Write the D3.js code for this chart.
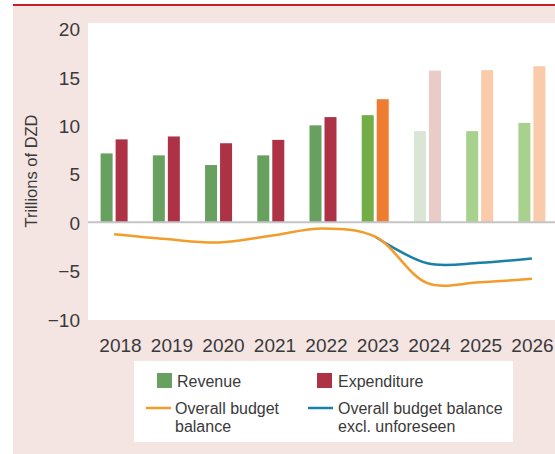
<!DOCTYPE html>
<meta charset="utf-8">
<style>

body {
  margin: 0;
  overflow: hidden;
  background: #fff;
}
text {
  font-family: "Liberation Sans", Arial, sans-serif;
  fill: #3a3a3a;
}
.tick text {
  font-size: 19px;
}
.legend text {
  font-size: 16px;
}
.ytitle {
  font-size: 16.5px;
}

</style>
<svg id="svg" width="555" height="454"></svg>
<script src="https://d3js.org/d3.v7.min.js"></script>
<script>

var years = ["2018", "2019", "2020", "2021", "2022", "2023", "2024", "2025", "2026"];
var revenue = [7.1, 6.9, 5.9, 6.9, 10.0, 11.05, 9.4, 9.4, 10.25];
var expenditure = [8.55, 8.85, 8.15, 8.5, 10.85, 12.7, 15.65, 15.7, 16.1];
var balance = [-1.25, -1.75, -2.1, -1.4, -0.65, -1.5, -6.3, -6.2, -5.85];
var balanceExcl = [null, null, null, null, null, -1.5, -4.25, -4.2, -3.75];
var yTicks = [-10, -5, 0, 5, 10, 15, 20];

// actual / estimate / forecast colours per year
var revColor = ["#68a060", "#68a060", "#68a060", "#68a060", "#68a060", "#72ad46", "#d9e6d6", "#a9d18e", "#a9d18e"];
var expColor = ["#ad3246", "#ad3246", "#ad3246", "#ad3246", "#ad3246", "#ef7d31", "#e9cbc8", "#f9cbab", "#f9cbab"];

var svg = d3.select("svg");

// pink panel + red rule on top
svg.append("rect").attr("x", 13).attr("y", 6).attr("width", 542).attr("height", 448).attr("fill", "#f4e4e2");
svg.append("rect").attr("x", 13).attr("y", 4).attr("width", 542).attr("height", 2).attr("fill", "#c8202a");

var plot = {left: 88, right: 555, top: 23, bottom: 320};
svg.append("rect")
    .attr("x", plot.left).attr("y", plot.top)
    .attr("width", plot.right - plot.left).attr("height", plot.bottom - plot.top)
    .attr("fill", "#fff");

var x = d3.scaleBand().domain(years).range([88, 558]);
var xLabel = d3.scalePoint().domain(years).range([120, 532]);
var y = d3.scaleLinear().domain([-10, 20]).range([319, 28.5]);

// y axis labels
var yAxis = svg.append("g")
    .attr("transform", "translate(88,0)")
    .call(d3.axisLeft(y).tickValues(yTicks).tickSize(0).tickPadding(8)
      .tickFormat(function(d) { return d < 0 ? "\u2212" + Math.abs(d) : d; }));
yAxis.select(".domain").remove();
yAxis.selectAll("text").attr("dy", "0.38em");

// x axis labels
var xAxis = svg.append("g")
    .attr("transform", "translate(0,331)")
    .call(d3.axisBottom(xLabel).tickSize(0).tickPadding(0));
xAxis.select(".domain").remove();
xAxis.selectAll("text").attr("dy", 21);

svg.append("text")
    .attr("class", "ytitle")
    .attr("transform", "translate(37,171) rotate(-90)")
    .attr("text-anchor", "middle")
    .text("Trillions of DZD");

var barW = 12, gap = 3;
var bars = svg.append("g");
bars.selectAll("rect.rev")
    .data(years)
    .enter().append("rect")
    .attr("class", "rev")
    .attr("x", function(d) { return x(d) + x.bandwidth() / 2 - gap / 2 - barW; })
    .attr("width", barW)
    .attr("y", function(d, i) { return y(revenue[i]); })
    .attr("height", function(d, i) { return y(0) - y(revenue[i]); })
    .attr("fill", function(d, i) { return revColor[i]; });
bars.selectAll("rect.exp")
    .data(years)
    .enter().append("rect")
    .attr("class", "exp")
    .attr("x", function(d) { return x(d) + x.bandwidth() / 2 + gap / 2; })
    .attr("width", barW)
    .attr("y", function(d, i) { return y(expenditure[i]); })
    .attr("height", function(d, i) { return y(0) - y(expenditure[i]); })
    .attr("fill", function(d, i) { return expColor[i]; });

// zero line
svg.append("line")
    .attr("x1", plot.left).attr("x2", plot.right)
    .attr("y1", y(0)).attr("y2", y(0))
    .attr("stroke", "#c4c4c4").attr("stroke-width", 2);

var line = d3.line()
    .defined(function(d) { return d != null; })
    .x(function(d, i) { return x(years[i]) + x.bandwidth() / 2; })
    .y(function(d) { return y(d); })
    .curve(d3.curveCatmullRom.alpha(0.5));

svg.append("path").datum(balanceExcl)
    .attr("d", line).attr("fill", "none")
    .attr("stroke", "#1a80a8").attr("stroke-width", 2.5);
svg.append("path").datum(balance)
    .attr("d", line).attr("fill", "none")
    .attr("stroke", "#f29c2c").attr("stroke-width", 2.5);

// legend
var legend = svg.append("g").attr("class", "legend");
legend.append("rect").attr("x", 134).attr("y", 361).attr("width", 379).attr("height", 81).attr("fill", "#fff");

legend.append("rect").attr("x", 157).attr("y", 373).attr("width", 15).attr("height", 15).attr("fill", revColor[0]);
legend.append("text").attr("x", 177).attr("y", 387).text("Revenue");
legend.append("rect").attr("x", 317).attr("y", 373).attr("width", 15).attr("height", 15).attr("fill", expColor[0]);
legend.append("text").attr("x", 338).attr("y", 387).text("Expenditure");

legend.append("line").attr("x1", 146).attr("x2", 171).attr("y1", 408).attr("y2", 408)
    .attr("stroke", "#f29c2c").attr("stroke-width", 2.5);
legend.append("text").attr("x", 175).attr("y", 414)
  .selectAll("tspan").data(["Overall budget", "balance"])
  .enter().append("tspan").attr("x", 175).attr("dy", function(d, i) { return i ? 18 : 0; })
  .text(function(d) { return d; });

legend.append("line").attr("x1", 308).attr("x2", 333).attr("y1", 408).attr("y2", 408)
    .attr("stroke", "#1a80a8").attr("stroke-width", 2.5);
legend.append("text").attr("x", 338).attr("y", 414)
  .selectAll("tspan").data(["Overall budget balance", "excl. unforeseen"])
  .enter().append("tspan").attr("x", 338).attr("dy", function(d, i) { return i ? 18 : 0; })
  .text(function(d) { return d; });

</script>
